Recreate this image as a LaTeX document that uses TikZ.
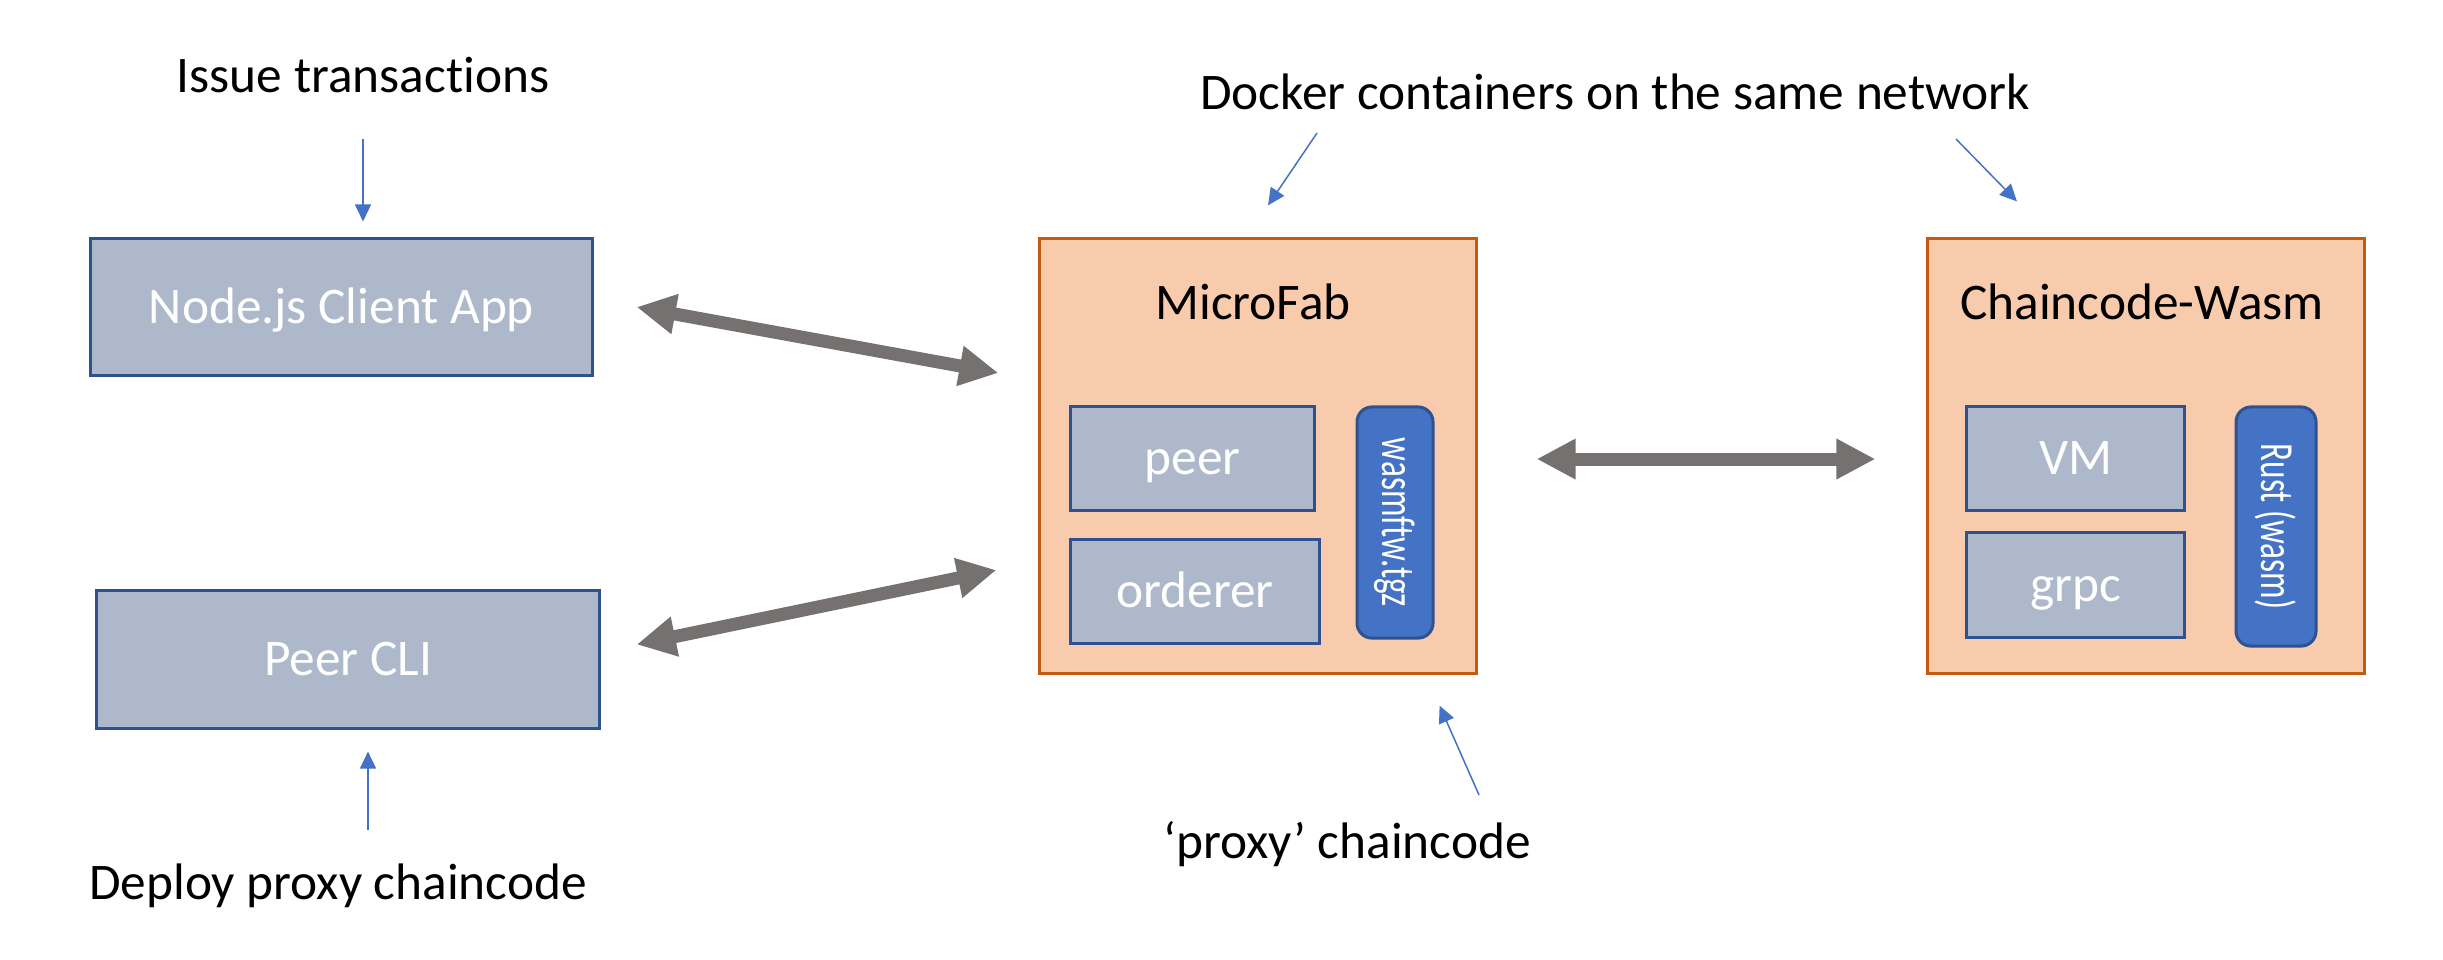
\documentclass[tikz,border=0pt]{standalone}
\usepackage{fontspec}
\setmainfont{Carlito}[Ligatures={NoCommon}]
\usepackage{graphicx}
\usetikzlibrary{arrows.meta}

\definecolor{appfill}{HTML}{ADB9CA}
\definecolor{appline}{HTML}{2F528F}
\definecolor{dockfill}{HTML}{F8CBAD}
\definecolor{dockline}{HTML}{C55A11}
\definecolor{pkgfill}{HTML}{4472C4}
\definecolor{linkgray}{HTML}{767171}

\tikzset{
  bigfont/.style={font=\fontsize{14.6}{17}\selectfont},
  appbox/.style={draw=appline, line width=0.03cm, fill=appfill, text=white, bigfont, inner sep=0pt,
    text height=0.40cm, text depth=0.08cm},
  dockbox/.style={draw=dockline, line width=0.03cm, fill=dockfill, inner sep=0pt},
  pkgbox/.style={draw=appline, line width=0.03cm, fill=pkgfill, rounded corners=0.15cm, text=white,
    font=\fontsize{13.5}{15}\selectfont, inner sep=0pt},
  link/.style={draw=linkgray, line width=0.13cm,
    {Triangle[width=0.38cm,length=0.39cm]}-{Triangle[width=0.38cm,length=0.39cm]}},
  note/.style={draw=pkgfill, line width=0.015cm, -{Triangle[width=0.16cm,length=0.17cm]}},
  notetext/.style={bigfont, anchor=base, inner sep=0pt},
}

\begin{document}
\begin{tikzpicture}[x=0.01cm, y=-0.01cm]
    \useasboundingbox (0,0) rectangle (2443,959);

    % client side
    \node[appbox, minimum width=5.01cm, minimum height=1.36cm] (client) at (341.5,307) {Node.js Client App};
    \node[appbox, minimum width=5.02cm, minimum height=1.37cm] (cli) at (348,659.5) {Peer CLI};

    % docker containers
    \node[dockbox, minimum width=4.36cm, minimum height=4.34cm] (micro) at (1258,456) {};
    \node[dockbox, minimum width=4.36cm, minimum height=4.34cm] (chain) at (2146,456) {};
    \node[bigfont, anchor=base] (microtitle) at ([xshift=-0.05cm, yshift=-0.82cm]micro.north) {MicroFab};
    \node[bigfont, anchor=base] (chaintitle) at ([xshift=-0.04cm, yshift=-0.82cm]chain.north) {Chaincode-Wasm};

    \node[appbox, minimum width=2.43cm, minimum height=1.03cm] (peer) at (1192.5,458.5) {peer};
    \node[appbox, minimum width=2.48cm, minimum height=1.03cm] (orderer) at (1195,591.5) {orderer};
    \node[pkgbox, rotate=-90, minimum width=2.31cm, minimum height=0.76cm] (wasm) at (1395,522.5) {\scalebox{0.7}[1]{wasmftw.tgz}};

    \node[appbox, minimum width=2.17cm, minimum height=1.03cm] (vm) at (2075.5,458.5) {VM};
    \node[appbox, minimum width=2.17cm, minimum height=1.04cm] (grpc) at (2075.5,585) {grpc};
    \node[pkgbox, rotate=-90, minimum width=2.39cm, minimum height=0.80cm] (rust) at (2276,526.5) {\scalebox{0.7}[1]{Rust (wasm)}};

    % thick links
    \draw[link] ([xshift=0.43cm]client.east) -- ([xshift=-0.40cm, yshift=0.83cm]micro.west);
    \draw[link] ([xshift=0.36cm, yshift=0.15cm]cli.east) -- ([xshift=-0.42cm, yshift=-1.14cm]micro.west);
    \draw[link] ([xshift=0.59cm, yshift=-0.03cm]micro.east) -- ([xshift=-0.51cm, yshift=-0.03cm]chain.west);

    % notes
    \node[notetext] (issue) at (363,92) {Issue transactions};
    \node[notetext] (deploy) at (338,899) {Deploy proxy chaincode};
    \node[notetext] (docker) at (1615,109) {Docker containers on the same network};
    \node[notetext] (proxy) at (1347,858) {‘proxy’ chaincode};

    \coordinate (issuetail) at (363,139);
    \coordinate (deploytail) at (368,830);
    \coordinate (dockertailA) at (1317,133);
    \coordinate (dockertailB) at (1956,139);
    \coordinate (proxytail) at (1479,795);

    \draw[note, shorten >=0.16cm] (issuetail) -- (issuetail |- client.north);
    \draw[note, shorten >=0.22cm] (deploytail) -- (deploytail |- cli.south);
    \draw[note] (dockertailA) -- ([xshift=0.10cm, yshift=0.32cm]micro.north);
    \draw[note] (dockertailB) -- ([xshift=-1.29cm, yshift=0.36cm]chain.north);
    \draw[note] (proxytail) -- ([xshift=-0.38cm, yshift=-0.31cm]micro.south east);
\end{tikzpicture}
\end{document}
